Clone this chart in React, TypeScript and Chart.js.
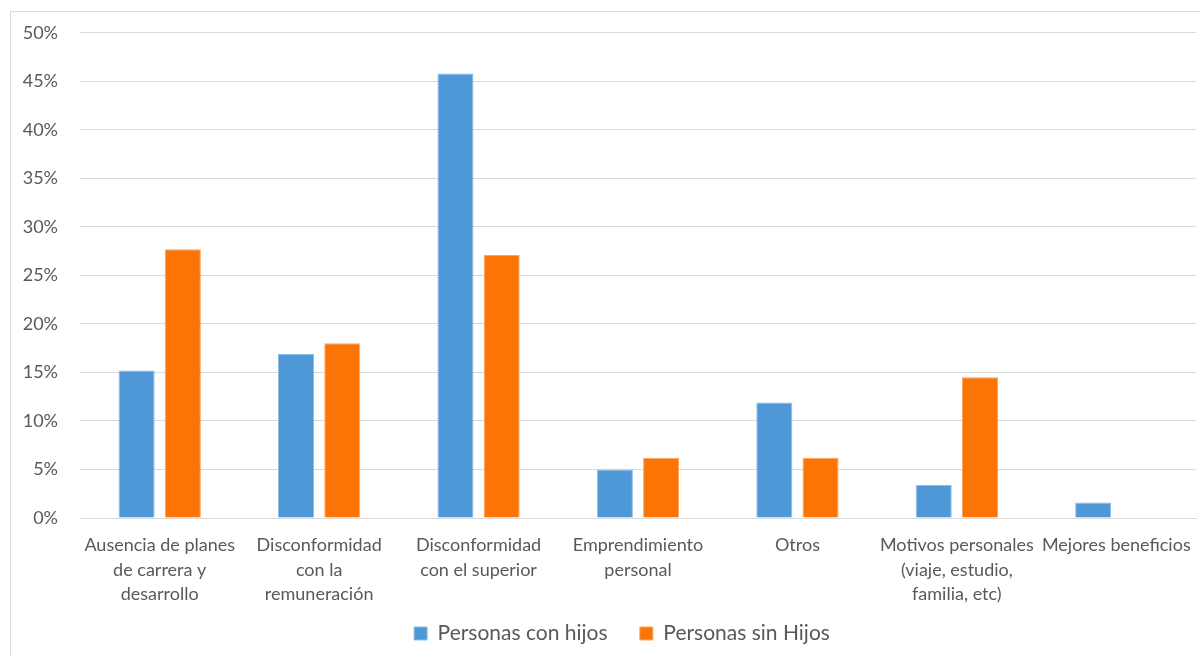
import React, { useEffect, useRef } from "react";
import { Chart, registerables } from "chart.js";

Chart.register(...registerables);

const categories: string[][] = [
  ["Ausencia de planes", "de carrera y", "desarrollo"],
  ["Disconformidad", "con la", "remuneración"],
  ["Disconformidad", "con el superior"],
  ["Emprendimiento", "personal"],
  ["Otros"],
  ["Motivos personales", "(viaje, estudio,", "familia, etc)"],
  ["Mejores beneficios"],
];

const conHijos: number[] = [15.2, 16.9, 45.8, 5.0, 11.9, 3.4, 1.6];
const sinHijos: number[] = [27.7, 18.0, 27.1, 6.2, 6.2, 14.5, 0];

const yTicks: number[] = [0, 5, 10, 15, 20, 25, 30, 35, 40, 45, 50];

const FONT = "Lato, 'Open Sans', sans-serif";
const TEXT = "#595959";
const GRID = "#d9d9d9";

// The original chart frame is wider than the visible crop, so the legend is centred further right.
const legendShift = {
  id: "legendShift",
  afterLayout(chart: any) {
    const l = chart.legend;
    if (l) {
      l.left += 24;
      l.right += 24;
    }
  },
};

export default function App() {
  const ref = useRef<HTMLCanvasElement | null>(null);

  useEffect(() => {
    if (!ref.current) return;
    const chart = new Chart(ref.current, {
      type: "bar",
      data: {
        labels: categories,
        datasets: [
          {
            label: "Personas con hijos",
            data: conHijos,
            backgroundColor: "#4f98d8",
            borderColor: "#8cbde6",
            borderWidth: 1,
            categoryPercentage: 0.58,
            barPercentage: 0.78,
          },
          {
            label: "Personas sin Hijos",
            data: sinHijos,
            backgroundColor: "#fb7405",
            borderColor: "#fca45c",
            borderWidth: 1,
            categoryPercentage: 0.58,
            barPercentage: 0.78,
          },
        ],
      },
      plugins: [legendShift],
      options: {
        responsive: false,
        animation: false,
        maintainAspectRatio: false,
        layout: { padding: { top: 24, right: 4, left: 0, bottom: 2 } },
        plugins: {
          tooltip: { enabled: false },
          legend: {
            position: "bottom",
            labels: {
              color: TEXT,
              font: { family: FONT, size: 21 },
              boxWidth: 13,
              boxHeight: 13,
              padding: 6,
              generateLabels: (c: any) => {
                const items = Chart.defaults.plugins.legend.labels.generateLabels(c);
                items.forEach((it: any, i: number) => {
                  if (i < items.length - 1) it.text = it.text + "\u2003\u2002";
                });
                return items;
              },
            },
          },
        },
        scales: {
          x: {
            afterFit: (scale: any) => {
              scale.height = 99;
            },
            grid: { display: false },
            border: { display: true, color: GRID },
            ticks: {
              color: TEXT,
              font: { family: FONT, size: 18, lineHeight: 1.36 },
              maxRotation: 0,
              autoSkip: false,
              padding: 7,
            },
          },
          y: {
            min: 0,
            max: 50,
            afterBuildTicks: (scale: any) => {
              scale.ticks = yTicks.map((v) => ({ value: v }));
            },
            afterFit: (scale: any) => {
              scale.width = 80;
            },
            grid: { color: GRID, lineWidth: 1, drawTicks: false },
            border: { display: false },
            ticks: {
              color: TEXT,
              font: { family: FONT, size: 18 },
              padding: 22,
              callback: (v: any) => `${v}%`,
            },
          },
        },
      },
    });
    return () => chart.destroy();
  }, []);

  return (
    <div
      style={{
        position: "absolute",
        left: 0,
        top: 0,
        width: 1200,
        height: 656,
        overflow: "hidden",
        background: "#fff",
      }}
    >
      <div
        style={{
          position: "absolute",
          left: 10,
          top: 11,
          width: 1300,
          height: 800,
          border: `1px solid ${GRID}`,
        }}
      />
      <canvas
        ref={ref}
        width={1200}
        height={656}
        style={{ position: "absolute", left: 0, top: 0, display: "block" }}
      />
    </div>
  );
}
